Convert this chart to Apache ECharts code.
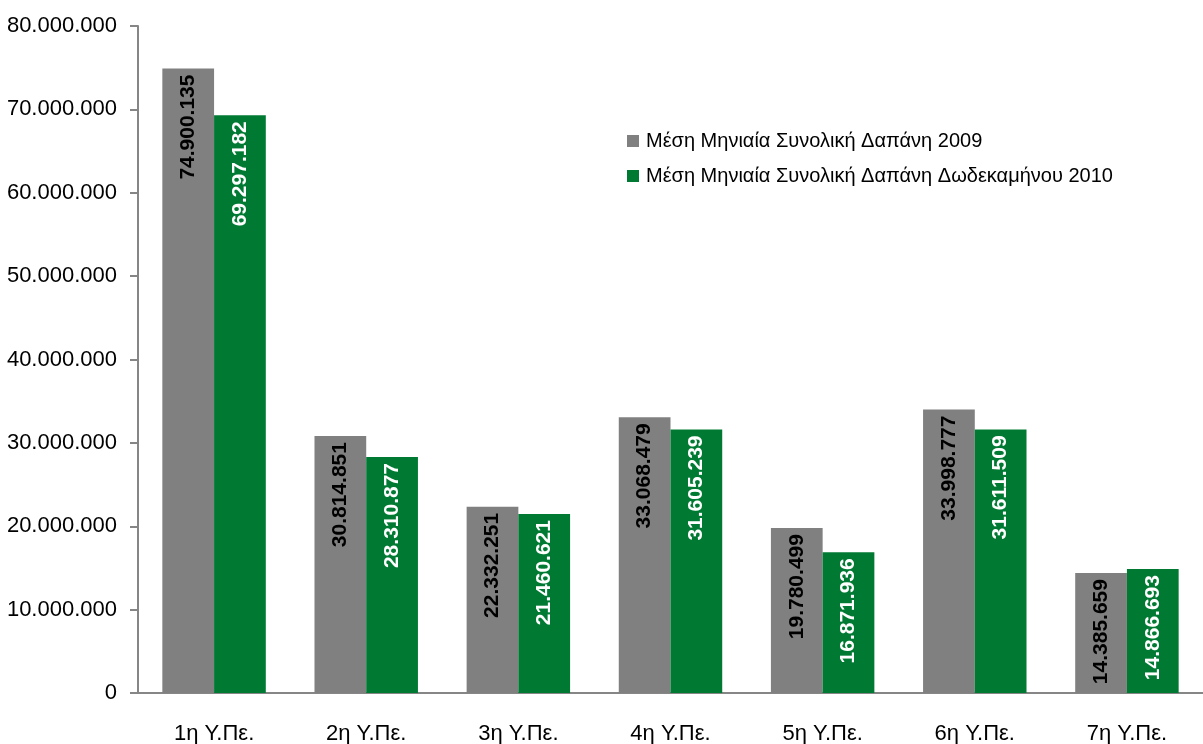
<!DOCTYPE html>
<html>
<head>
<meta charset="utf-8">
<script src="https://cdn.jsdelivr.net/npm/echarts@6/dist/echarts.min.js"></script>
<style>
  html, body { margin: 0; padding: 0; background: #fff; }
  #chart { width: 1203px; height: 744px; }
</style>
</head>
<body>
<div id="chart"></div>
<script>
// δεδομένα
var categories = ['1η Υ.Πε.', '2η Υ.Πε.', '3η Υ.Πε.', '4η Υ.Πε.', '5η Υ.Πε.', '6η Υ.Πε.', '7η Υ.Πε.'];
var seriesNames = ['Μέση Μηνιαία Συνολική Δαπάνη 2009', 'Μέση Μηνιαία Συνολική Δαπάνη Δωδεκαμήνου 2010'];
var values2009 = [74900135, 30814851, 22332251, 33068479, 19780499, 33998777, 14385659];
var values2010 = [69297182, 28310877, 21460621, 31605239, 16871936, 31611509, 14866693];

var font = '"Liberation Sans Narrow", "Arial Narrow", "Liberation Sans", Arial, sans-serif';

function dots(v) {
  return String(v).replace(/\B(?=(\d{3})+(?!\d))/g, '.');
}

var myChart = echarts.init(document.getElementById('chart'));

var option = {
  animation: false,
  textStyle: { fontFamily: font },
  grid: { left: 138, right: 0, top: 26, bottom: 51, containLabel: false, outerBoundsMode: 'none' },
  legend: {
    orient: 'vertical',
    left: 622,
    top: 126,
    itemWidth: 12,
    itemHeight: 12,
    itemGap: 15,
    icon: 'rect',
    textStyle: { fontSize: 20, color: '#000', fontFamily: font, padding: [0, 0, 0, 2] },
    data: seriesNames
  },
  xAxis: {
    type: 'category',
    data: categories,
    axisLine: { lineStyle: { color: '#868686', width: 2 } },
    axisTick: { length: 8, lineStyle: { color: '#868686', width: 2 } },
    axisLabel: { fontSize: 22, color: '#000', margin: 30, fontFamily: font }
  },
  yAxis: {
    type: 'value',
    min: 0,
    max: 80000000,
    interval: 10000000,
    splitLine: { show: false },
    axisLine: { show: true, lineStyle: { color: '#868686', width: 2 } },
    axisTick: { show: true, length: 8, lineStyle: { color: '#868686', width: 2 } },
    axisLabel: { fontSize: 22, color: '#000', margin: 21, fontFamily: font, formatter: dots }
  },
  series: [
    {
      name: seriesNames[0],
      type: 'bar',
      data: values2009,
      barGap: '0%',
      barCategoryGap: '32%',
      itemStyle: { color: '#808080' },
      label: {
        show: true,
        position: 'insideTop',
        rotate: 90,
        align: 'right',
        verticalAlign: 'middle',
        distance: 6,
        fontSize: 21,
        fontWeight: 'bold',
        color: '#000',
        fontFamily: font,
        formatter: function (p) { return dots(p.value); }
      }
    },
    {
      name: seriesNames[1],
      type: 'bar',
      data: values2010,
      itemStyle: { color: '#007A33' },
      label: {
        show: true,
        position: 'insideTop',
        rotate: 90,
        align: 'right',
        verticalAlign: 'middle',
        distance: 6,
        fontSize: 21,
        fontWeight: 'bold',
        color: '#fff',
        fontFamily: font,
        formatter: function (p) { return dots(p.value); }
      }
    }
  ]
};

myChart.setOption(option);
</script>
</body>
</html>
